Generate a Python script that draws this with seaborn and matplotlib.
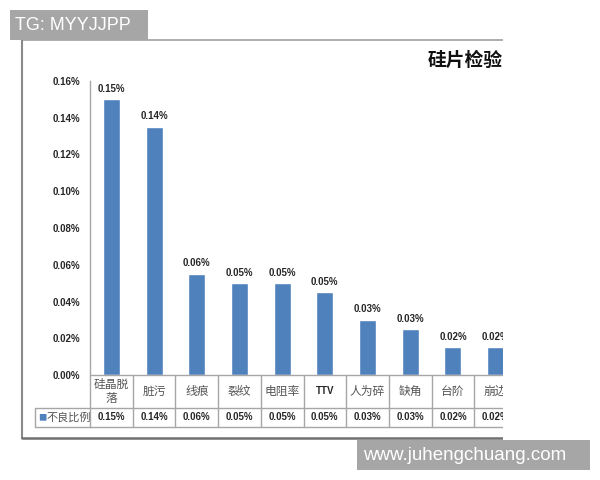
import matplotlib
matplotlib.use('Agg')
import matplotlib.pyplot as plt
import seaborn as sns
from matplotlib.patches import Rectangle
from matplotlib.lines import Line2D

# data (percent units)
categories = ['硅晶脱落', '脏污', '线痕', '裂纹', '电阻率', 'TTV', '人为碎', '缺角', '台阶', '崩边']
table_labels = ['硅晶脱\n落', '脏污', '线痕', '裂纹', '电阻率', 'TTV', '人为碎', '缺角', '台阶', '崩边']
values = [0.150, 0.135, 0.055, 0.050, 0.050, 0.045, 0.030, 0.025, 0.015, 0.015]
value_labels = ['0.15%', '0.14%', '0.06%', '0.05%', '0.05%', '0.05%', '0.03%', '0.03%', '0.02%', '0.02%']
yticks = [0.00, 0.02, 0.04, 0.06, 0.08, 0.10, 0.12, 0.14, 0.16]
series_name = '不良比例'
title = '硅片检验'

BLUE = '#4F81BD'
GRID = '#a6a6a6'

sns.set_style('white')
plt.rcParams['font.family'] = ['Noto Sans CJK SC', 'DejaVu Sans']

W, H = 600, 480
def fx(px):
    return px / W
def fy(py):
    return 1 - py / H

fig = plt.figure(figsize=(6, 4.8), dpi=100)
# axes: x from axis line to end of 10th category, y from table bottom to 0.16%
ax = fig.add_axes([fx(90), fy(427), 427 / W, (427 - 81) / H])

sns.barplot(x=categories, y=values, color=BLUE, width=0.4, saturation=1, ax=ax)

def yval(py):
    # pixel row -> data value (0 at y=375, 0.16 at y=81)
    return 0.16 * (375 - py) / 294

ax.set_xlim(-0.5, len(categories) - 0.5)
ax.set_ylim(yval(427), 0.16)
ax.set_xlabel('')
ax.set_ylabel('')
ax.set_xticks([])
ax.set_yticks(yticks)
ax.set_yticklabels([f'{v:.2f}%' for v in yticks], family='Liberation Sans',
                   fontweight='bold', fontsize=7)
ax.tick_params(axis='y', length=0, pad=7)
for s in ['top', 'right', 'bottom']:
    ax.spines[s].set_visible(False)
ax.spines['left'].set_color(GRID)
ax.spines['left'].set_linewidth(1)

# bar value labels
for i, (v, lab) in enumerate(zip(values, value_labels)):
    ax.annotate(lab, (i, v), xytext=(0, 4), textcoords='offset points',
                ha='center', va='bottom', family='Liberation Sans',
                fontweight='bold', fontsize=7)

# data table under the plot
row1 = yval(408)
bottom = yval(427)
key_left = (35 - 90) / 42.7 - 0.5
n = len(categories)
ax.plot([-0.5, n - 0.5], [0, 0], color=GRID, lw=1, clip_on=False)
ax.plot([key_left, n - 0.5], [row1, row1], color=GRID, lw=1, clip_on=False)
ax.plot([key_left, n - 0.5], [bottom, bottom], color=GRID, lw=1, clip_on=False)
ax.plot([key_left, key_left], [row1, bottom], color=GRID, lw=1, clip_on=False)
for k in range(n):
    ax.plot([k + 0.5, k + 0.5], [0, bottom], color=GRID, lw=1, clip_on=False)

for i, (lab, vl) in enumerate(zip(table_labels, value_labels)):
    if lab == 'TTV':
        ax.text(i, row1 / 2, lab, ha='center', va='center', family='Liberation Sans',
                fontweight='bold', fontsize=7)
    else:
        ax.text(i, row1 / 2, lab, ha='center', va='center', fontsize=8.5,
                color='#555555', linespacing=1.15)
    ax.text(i, (row1 + bottom) / 2, vl, ha='center', va='center',
            family='Liberation Sans', fontweight='bold', fontsize=7)

ax.text(key_left + 0.07, (row1 + bottom) / 2, '■', ha='left', va='center',
        color=BLUE, fontsize=6)
ax.text(key_left + 0.28, (row1 + bottom) / 2, series_name, ha='left', va='center',
        color='#555555', fontsize=8)

# chart title (right side, cut off in the screenshot)
fig.text(fx(428), fy(60), title, ha='left', va='center', fontsize=13.5,
         fontweight='bold', color='#111111')

# outer chart frame
fig.add_artist(Line2D([fx(22), fx(560)], [fy(40), fy(40)], color='#a0a0a0', lw=1.2, zorder=5))
fig.add_artist(Line2D([fx(22), fx(22)], [fy(40), fy(438)], color='#8a8a8a', lw=1.5, zorder=5))
fig.add_artist(Line2D([fx(22), fx(560)], [fy(438), fy(438)], color='#707070', lw=1.8, zorder=5))

# screenshot crop on the right side
fig.add_artist(Rectangle((fx(503), fy(442)), fx(97), (442 - 34) / H,
                         transform=fig.transFigure, facecolor='white',
                         edgecolor='none', zorder=6))

# watermarks
fig.add_artist(Rectangle((fx(10), fy(40)), fx(138), 30 / H, transform=fig.transFigure,
                         facecolor='#a6a6a6', edgecolor='none', zorder=7))
fig.text(fx(15), fy(25), 'TG: MYYJJPP', ha='left', va='center', color='white',
         family='Liberation Sans', fontsize=13, zorder=8)
fig.add_artist(Rectangle((fx(357), fy(470)), fx(233), 30 / H, transform=fig.transFigure,
                         facecolor='#a6a6a6', edgecolor='none', zorder=7))
fig.text(fx(363), fy(455), 'www.juhengchuang.com', ha='left', va='center',
         color='white', family='Liberation Sans', fontsize=13.5, zorder=8)

fig.savefig('out.png', dpi=100)
